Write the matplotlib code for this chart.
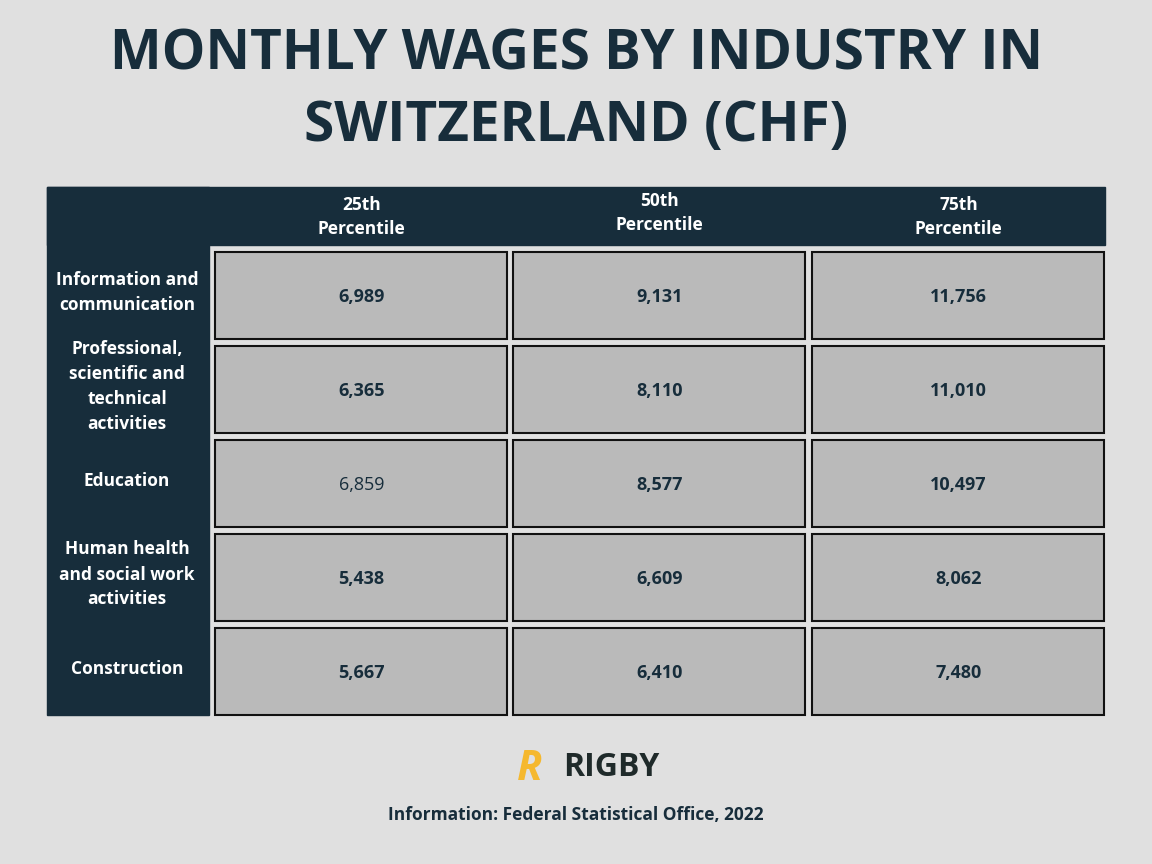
import matplotlib.pyplot as plt
from matplotlib.patches import Rectangle

industries = ['Information and\ncommunication', 'Professional,\nscientific and\ntechnical\nactivities',
              'Education', 'Human health\nand social work\nactivities', 'Construction']
columns = ['25th\nPercentile', '50th\nPercentile', '75th\nPercentile']
p25 = [6989, 6365, 6859, 5438, 5667]
p50 = [9131, 8110, 8577, 6609, 6410]
p75 = [11756, 11010, 10497, 8062, 7480]

navy = '#172d3b'
bg = '#e0e0e0'
plt.rcParams['font.family'] = ['Open Sans', 'DejaVu Sans']

W, H = 1152, 864
fig = plt.figure(figsize=(11.52, 8.64), dpi=100)
fig.patch.set_facecolor(bg)
ax = fig.add_axes([0, 0, 1, 1])
ax.set_xlim(0, W)
ax.set_ylim(H, 0)
ax.axis('off')

ax.text(576, 55, 'MONTHLY WAGES BY INDUSTRY IN', ha='center', va='center',
        fontsize=39.5, fontweight='bold', color=navy)
ax.text(576, 126, 'SWITZERLAND (CHF)', ha='center', va='center',
        fontsize=39.5, fontweight='bold', color=navy)

# table frame
left, right, top, head_bot, bottom, lab_right = 47, 1105, 187, 245, 715, 209
ax.add_patch(Rectangle((left, top), right - left, head_bot - top, color=navy))
ax.add_patch(Rectangle((left, top), lab_right - left, bottom - top, color=navy))

col_x = [215, 513, 812]
col_w = 293
row_y = [252, 346, 440, 534, 628]
row_h = 87
head_y = [217, 213, 217]
for j, c in enumerate(columns):
    ax.text(col_x[j] + col_w / 2, head_y[j], c, ha='center', va='center',
            fontsize=12.5, fontweight='bold', color='white', linespacing=1.5)

values = [p25, p50, p75]
for i, ind in enumerate(industries):
    cy = row_y[i] + row_h / 2
    ax.text(127, cy - 3, ind, ha='center', va='center', fontsize=12.5,
            fontweight='bold', color='white', linespacing=1.5)
    for j in range(3):
        ax.add_patch(Rectangle((col_x[j], row_y[i]), col_w - 1, row_h,
                               facecolor='#bababa', edgecolor='#111111', lw=1.5))
        weight = 'normal' if (i == 2 and j == 0) else 'bold'
        ax.text(col_x[j] + col_w / 2, cy + 1, f'{values[j][i]:,}', ha='center', va='center',
                fontsize=13, fontweight=weight, color=navy)

# logo
ax.text(530, 769, 'R', ha='center', va='center', fontsize=30, fontweight='bold',
        color='#f5b82e', fontstyle='italic')
ax.text(611, 768, 'RIGBY', ha='center', va='center', fontsize=23,
        fontweight='bold', color='#1f2a2a')
ax.text(576, 815, 'Information: Federal Statistical Office, 2022', ha='center',
        va='center', fontsize=12.5, fontweight='bold', color=navy)

fig.savefig('out.png', dpi=100, facecolor=bg)
